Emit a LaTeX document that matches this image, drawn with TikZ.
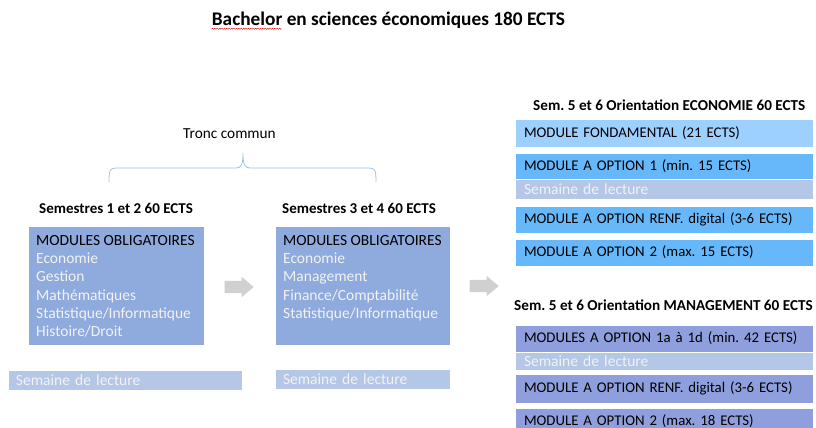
\documentclass[tikz,border=0pt]{standalone}
\usepackage{fontspec}
\setmainfont{Carlito}
\frenchspacing
\usetikzlibrary{shapes.arrows,decorations.pathmorphing}
\definecolor{leftbox}{HTML}{8FAADC}
\definecolor{semaine}{HTML}{B4C7E7}
\definecolor{ecofond}{HTML}{9DCFFF}
\definecolor{ecoopt}{HTML}{66B8FA}
\definecolor{mgmt}{HTML}{8F9FDD}
\definecolor{arrowgray}{HTML}{D0D0D0}
\definecolor{bracecol}{HTML}{9DC3E6}
\begin{document}
\begin{tikzpicture}[x=1pt,y=-1pt,
  fs/.style={font=\fontsize{15.5}{18.3}\selectfont},
  fsr/.style={font=\fontsize{14.8}{18}\selectfont},
  fss/.style={font=\fontsize{15.5}{18}\selectfont},
  fsb/.style={font=\fontsize{15}{18}\selectfont\bfseries},
  fsbr/.style={font=\fontsize{15.2}{18}\selectfont\bfseries},
  blk/.style={draw=white, line width=0.5pt, inner sep=0pt, outer sep=0pt, anchor=north west},
  rbox/.style={blk, fsr, text width=280pt, inner xsep=9pt, inner ysep=0pt, align=left, minimum width=298pt},
  sem/.style={fill=semaine, text=white!95!black},
  garrow/.style={single arrow, fill=arrowgray, draw=none, inner sep=6pt, minimum height=29pt,
                 single arrow head extend=4pt, single arrow tip angle=80}]
\useasboundingbox (0,0) rectangle (816,428);
% title
\node[font=\fontsize{19.3}{22}\selectfont\bfseries, inner sep=0] (title) at (388.5,20) {Bachelor en sciences économiques 180 ECTS};
\draw[red!85!black, line width=0.4pt, decorate, decoration={snake, amplitude=0.6pt, segment length=2.4pt}]
  ([yshift=-3.5pt]title.base west) -- ([xshift=70pt,yshift=-3.5pt]title.base west);
% tronc commun and brace
\node[font=\fontsize{15.3}{18}\selectfont, anchor=center] (tronc) at (229.5,134) {Tronc commun};
\draw[bracecol, line width=0.8pt] (109,182) .. controls (109,170) and (110,168) .. (116,168) -- (236,168)
  .. controls (241,168) and (243,165) .. (243,153)
  .. controls (243,165) and (245,168) .. (250,168) -- (369,168)
  .. controls (375,168) and (376,170) .. (376,182);
% headings
\node[fsb, anchor=west, inner sep=0] (h1) at (39,208) {Semestres 1 et 2 60 ECTS};
\node[fsb, anchor=west, inner sep=0] (h2) at (282,208) {Semestres 3 et 4 60 ECTS};
% left boxes
\node[blk, fill=leftbox, minimum width=176pt, minimum height=119pt] (b1) at (28,226) {};
\node[fs, anchor=north west, align=left, inner sep=0, text=white!95!black] (t1) at ([xshift=8pt,yshift=-9pt]b1.north west)
  {\textcolor{black}{MODULES OBLIGATOIRES}\\Economie\\Gestion\\Mathématiques\\Statistique/Informatique\\Histoire/Droit};
\node[blk, fill=leftbox, minimum width=175pt, minimum height=119pt] (b2) at (275,226) {};
\node[fs, anchor=north west, align=left, inner sep=0, text=white!95!black] (t2) at ([xshift=8pt,yshift=-9pt]b2.north west)
  {\textcolor{black}{MODULES OBLIGATOIRES}\\Economie\\Management\\Finance/Comptabilité\\Statistique/Informatique};
\node[blk, sem, fss, minimum width=234pt, minimum height=20pt, text width=218pt, inner xsep=8pt, align=left] (s1) at (8,370) {Semaine de lecture};
\node[blk, sem, fss, minimum width=175pt, minimum height=20pt, text width=159pt, inner xsep=8pt, align=left] (s2) at (275,369) {Semaine de lecture};
% arrows
\node[garrow] (a1) at (235.5,287) {};
\node[garrow] (a2) at (480.5,286) {};
% economie
\node[fsbr, anchor=west, inner sep=0] (h3) at (533,105) {Sem. 5 et 6 Orientation ECONOMIE 60 ECTS};
\node[rbox, fill=ecofond, minimum height=28pt] (e1) at (515,119) {MODULE FONDAMENTAL (21 ECTS)};
\node[rbox, fill=ecoopt, minimum height=26pt] (e2) at (515,153) {MODULE A OPTION 1 (min. 15 ECTS)};
\node[rbox, sem, fss, minimum height=20pt] (e3) at (515,179) {Semaine de lecture};
\node[rbox, fill=ecoopt, minimum height=27pt] (e4) at (515,206) {MODULE A OPTION RENF. digital (3-6 ECTS)};
\node[rbox, fill=ecoopt, minimum height=27pt] (e5) at (515,239) {MODULE A OPTION 2 (max. 15 ECTS)};
% management
\node[fsbr, anchor=west, inner sep=0] (h4) at (514,305) {Sem. 5 et 6 Orientation MANAGEMENT 60 ECTS};
\node[rbox, fill=mgmt, minimum height=27pt] (m1) at (515,325) {MODULES A OPTION 1a à 1d (min. 42 ECTS)};
\node[rbox, sem, fss, minimum height=18pt] (m2) at (515,352) {Semaine de lecture};
\node[rbox, fill=mgmt, minimum height=29pt] (m3) at (515,374) {MODULE A OPTION RENF. digital (3-6 ECTS)};
\node[rbox, fill=mgmt, minimum height=27pt] (m4) at (515,408) {MODULE A OPTION 2 (max. 18 ECTS)};
\end{tikzpicture}
\end{document}
